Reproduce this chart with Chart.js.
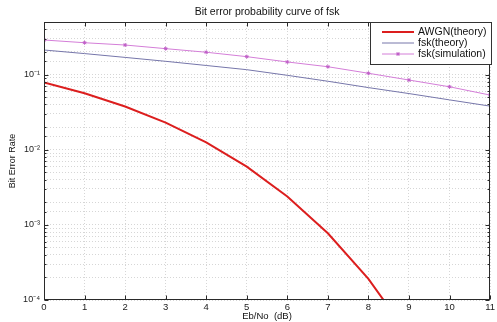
<!DOCTYPE html>
<html><head><meta charset="utf-8">
<script src="https://cdn.jsdelivr.net/npm/chart.js@4.4.0/dist/chart.umd.min.js"></script>
<style>html,body{margin:0;padding:0;background:#fff;}#wrap{width:497px;height:322px;position:relative;}</style>
</head><body><div id="wrap"><canvas id="c" width="497" height="322" style="width:497px;height:322px"></canvas></div>
<script>
const ebno = [0,1,2,3,4,5,6,7,8,9,10,11];
const awgnTheory = [0.0786,0.0563,0.0375,0.0229,0.0125,0.00595,0.00239,0.000773,0.000191,0.0000336,0.00000387,0.00000026];
const fskTheory = [0.212,0.190,0.169,0.150,0.132,0.116,0.0976,0.0814,0.067,0.0558,0.046,0.038];
const fskSim = [0.288,0.265,0.247,0.221,0.198,0.173,0.147,0.127,0.104,0.0845,0.0687,0.0533];
const yTickValues = [1e-1,1e-2,1e-3,1e-4];
const yTickLabels = ['10⁻¹','10⁻²','10⁻³','10⁻⁴'];
const xTickLabels = ['0','1','2','3','4','5','6','7','8','9','10','11'];
const seriesNames = ['AWGN(theory)','fsk(theory)','fsk(simulation)'];
const titleText = 'Bit error probability curve of fsk';
const xLabel = 'Eb/No  (dB)';
const yLabel = 'Bit Error Rate';

const FONT = '"Liberation Sans", Arial, Helvetica, sans-serif';
const toXY = (ys) => ebno.map((x,i)=>({x, y: ys[i]}));

const overlay = {
  id: 'overlay',
  afterDraw(chart){
    const {ctx, chartArea:a, scales:{x, y}} = chart;
    ctx.save();
    // plot box
    ctx.strokeStyle = '#2a2a2a'; ctx.lineWidth = 1;
    const L = Math.round(a.left)+0.5, T = Math.round(a.top)+0.5, R = Math.round(a.right)-0.5, B = Math.round(a.bottom)-0.5;
    ctx.strokeRect(L, T, R-L, B-T);
    // inward ticks
    ctx.beginPath();
    ebno.forEach(v=>{
      const px = Math.round(x.getPixelForValue(v))+0.5;
      ctx.moveTo(px, B); ctx.lineTo(px, B-4);
      ctx.moveTo(px, T); ctx.lineTo(px, T+4);
    });
    y.ticks.forEach(t=>{
      const py = Math.round(y.getPixelForValue(t.value))+0.5;
      const lg = Math.log10(t.value);
      const len = Math.abs(lg-Math.round(lg))<1e-6 ? 4 : 2;
      ctx.moveTo(L, py); ctx.lineTo(L+len, py);
      ctx.moveTo(R, py); ctx.lineTo(R-len, py);
    });
    ctx.stroke();
    // title and axis labels
    ctx.fillStyle = '#111';
    ctx.textAlign = 'center'; ctx.textBaseline = 'middle';
    ctx.font = '10.5px ' + FONT;
    ctx.fillText(titleText, (a.left+a.right)/2, 12);
    ctx.font = '9.5px ' + FONT;
    ctx.fillText(xLabel, (a.left+a.right)/2, 316);
    ctx.save();
    ctx.translate(13, 161); ctx.rotate(-Math.PI/2);
    ctx.font = '9px ' + FONT;
    ctx.fillText(yLabel, 0, 0);
    ctx.restore();
    // legend
    const lx = 370.5, ly = 22.5, lw = 121, lh = 42;
    ctx.fillStyle = '#fff';
    ctx.fillRect(lx, ly, lw, lh);
    ctx.strokeStyle = '#333'; ctx.lineWidth = 1;
    ctx.strokeRect(lx, ly, lw, lh);
    ctx.font = '10.5px ' + FONT;
    ctx.textAlign = 'left'; ctx.textBaseline = 'middle';
    chart.data.datasets.forEach((ds, i)=>{
      const yy = 32 + i*11;
      ctx.strokeStyle = ds.borderColor; ctx.lineWidth = ds.borderWidth;
      ctx.beginPath(); ctx.moveTo(382, yy); ctx.lineTo(414, yy); ctx.stroke();
      if (ds.pointRadius > 0) {
        ctx.lineWidth = 1;
        const r = 2;
        ctx.strokeStyle = ds.pointBorderColor;
        ctx.beginPath();
        ctx.moveTo(398-r, yy); ctx.lineTo(398+r, yy);
        ctx.moveTo(398, yy-r); ctx.lineTo(398, yy+r);
        ctx.moveTo(398-r*0.7, yy-r*0.7); ctx.lineTo(398+r*0.7, yy+r*0.7);
        ctx.moveTo(398-r*0.7, yy+r*0.7); ctx.lineTo(398+r*0.7, yy-r*0.7);
        ctx.stroke();
      }
      ctx.fillStyle = '#111';
      ctx.fillText(seriesNames[i], 418, yy+0.5);
    });
    ctx.restore();
  }
};

new Chart(document.getElementById('c'), {
  type: 'line',
  data: {
    datasets: [
      { label: seriesNames[0], data: toXY(awgnTheory), borderColor: '#dc1e1e', borderWidth: 2, pointRadius: 0, tension: 0 },
      { label: seriesNames[1], data: toXY(fskTheory), borderColor: '#7676aa', borderWidth: 1, pointRadius: 0, tension: 0 },
      { label: seriesNames[2], data: toXY(fskSim), borderColor: '#d47ed8', borderWidth: 1, pointRadius: 2, pointStyle: 'star', pointBorderColor: '#c060c8', pointBorderWidth: 1, tension: 0 }
    ]
  },
  options: {
    responsive: false,
    animation: false,
    devicePixelRatio: 1,
    layout: { padding: { top: 22, right: 5, left: 0, bottom: 0 } },
    plugins: { legend: { display: false }, title: { display: false }, tooltip: { enabled: false } },
    scales: {
      x: {
        type: 'linear', min: 0, max: 11,
        afterFit(s){ s.height = 22; },
        afterBuildTicks(s){ s.ticks = ebno.map(v=>({value:v})); },
        ticks: { stepSize: 1, padding: 2, color: '#222', font: { family: FONT, size: 9.5 },
                 callback: (v, i) => xTickLabels[i] ?? '' , maxRotation: 0, autoSkip: false },
        grid: { color: '#d6d6d6', lineWidth: 1, drawTicks: false },
        border: { display: false, dash: [1, 2] }
      },
      y: {
        type: 'logarithmic', min: 1e-4, max: 0.5,
        afterFit(s){ s.width = 44; },
        ticks: {
          autoSkip: false, padding: 4, color: '#222', font: { family: FONT, size: 9 },
          callback: (v) => {
            const k = yTickValues.findIndex(t => Math.abs(Math.log10(v) - Math.log10(t)) < 1e-6);
            return k >= 0 ? yTickLabels[k] : '';
          }
        },
        grid: { color: '#d6d6d6', lineWidth: 1, drawTicks: false },
        border: { display: false, dash: [1, 2] }
      }
    }
  },
  plugins: [overlay]
});
</script>
</body></html>
